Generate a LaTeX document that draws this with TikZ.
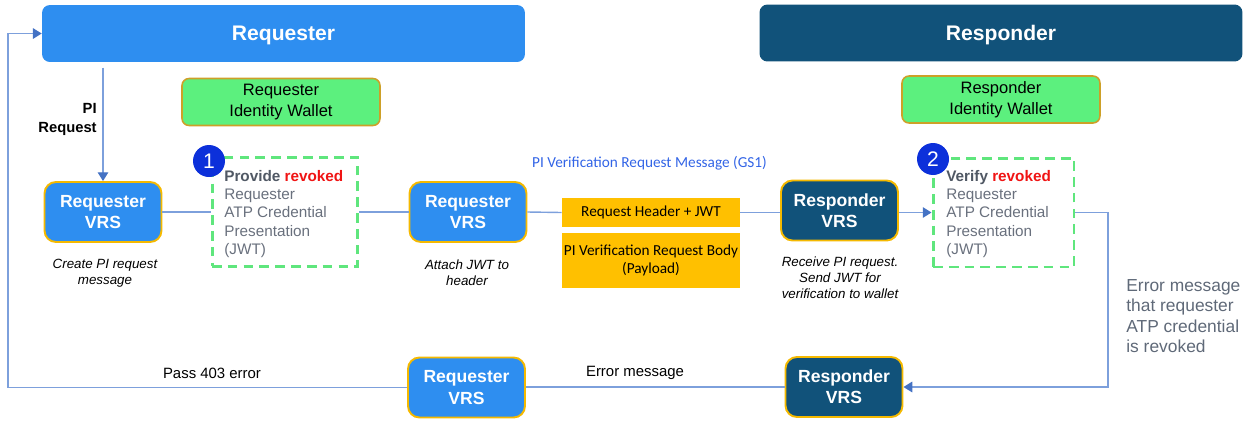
\documentclass[tikz,border=0pt]{standalone}
\usepackage{fontspec}
\setmainfont{Liberation Sans}
\newfontfamily\calibfont{Carlito}
\usetikzlibrary{arrows.meta}
\definecolor{reqblue}{RGB}{46,142,240}
\definecolor{resblue}{RGB}{17,82,122}
\definecolor{gold}{RGB}{245,185,0}
\definecolor{walletgreen}{RGB}{92,240,126}
\definecolor{walletedge}{RGB}{205,160,40}
\definecolor{dashgreen}{RGB}{95,230,125}
\definecolor{msgyellow}{RGB}{255,192,0}
\definecolor{linkblue}{RGB}{125,160,220}
\definecolor{tipblue}{RGB}{68,114,196}
\definecolor{badgeblue}{RGB}{12,48,218}
\definecolor{notegray}{RGB}{95,105,120}
\definecolor{textgray}{RGB}{105,112,125}
\definecolor{darkgray}{RGB}{80,88,100}
\definecolor{revred}{RGB}{240,20,20}
\definecolor{msgblue}{RGB}{50,100,230}
\begin{document}
\begin{tikzpicture}[x=0.02cm,y=-0.02cm,
  header/.style={rounded corners=4.5pt, minimum width=9.66cm, minimum height=1.14cm,
    text depth=0pt, text=white, font=\bfseries\fontsize{12}{14}\selectfont},
  wallet/.style={draw=walletedge, line width=0.9pt, fill=walletgreen, rounded corners=4pt,
    minimum width=3.96cm, minimum height=0.94cm, align=center, inner sep=1pt,
    font=\fontsize{9.4}{12}\selectfont},
  vrs/.style={draw=gold, line width=1.1pt, rounded corners=6.5pt, minimum width=2.34cm,
    minimum height=1.2cm, align=center, text=white, inner sep=1pt,
    font=\bfseries\fontsize{10}{12}\selectfont},
  reqvrs/.style={vrs, fill=reqblue},
  resvrs/.style={vrs, fill=resblue},
  cred/.style={draw=dashgreen, line width=1.7pt, dash pattern=on 5.5pt off 3.5pt,
    minimum height=2.18cm},
  badge/.style={circle, fill=badgeblue, minimum size=0.64cm, inner sep=0pt, text=white,
    font=\fontsize{12}{12}\selectfont},
  credtext/.style={anchor=north west, align=left, inner sep=0pt, text=textgray,
    font=\fontsize{8.7}{10.4}\selectfont},
  msgpart/.style={fill=msgyellow, minimum width=3.56cm, align=center, inner sep=1pt,
    font=\calibfont\fontsize{8.7}{10}\selectfont},
  caption/.style={anchor=north, align=center, inner sep=0pt,
    font=\itshape\fontsize{7.6}{9.1}\selectfont},
  link/.style={draw=linkblue, line width=0.8pt},
  arrow/.style={link, -{Triangle[length=5pt, width=6pt, color=tipblue]}},
  flowlabel/.style={inner sep=0pt, font=\fontsize{8.5}{10}\selectfont},
]
\useasboundingbox (0,0) rectangle (1250,420);

% swimlane headers
\node[header, fill=reqblue] (reqhdr) at (283.5,33.5) {Requester};
\node[header, fill=resblue] (reshdr) at (1001,33) {Responder};

% identity wallets
\node[wallet] (reqwallet) at (281,102) {Requester\\Identity Wallet};
\node[wallet] (reswallet) at (1001,99.5) {Responder\\Identity Wallet};

% verifiable request services
\node[reqvrs] (vrsA) at (103,212) {Requester\\VRS};
\node[reqvrs] (vrsB) at (468,212) {Requester\\VRS};
\node[resvrs] (vrsC) at (839.5,210.5) {Responder\\VRS};
\node[resvrs] (vrsD) at (844,387) {Responder\\VRS};
\node[reqvrs] (vrsE) at (466.5,387.5) {Requester\\VRS};

% credential presentation steps
\node[cred, minimum width=2.92cm] (credA) at (285,212) {};
\node[cred, minimum width=2.82cm] (credB) at (1003.5,212.5) {};
\node[credtext] (credAtext) at (224,170)
  {{\bfseries\color{darkgray}Provide} {\bfseries\color{revred}revoked}\\Requester\\ATP Credential\\Presentation\\(JWT)};
\node[credtext] (credBtext) at (946,170)
  {{\bfseries\color{darkgray}Verify} {\bfseries\color{revred}revoked}\\Requester\\ATP Credential\\Presentation\\(JWT)};
\node[badge] (badgeA) at (209,161) {1};
\node[badge] (badgeB) at (933,159) {2};

% request message parts
\node[msgpart, minimum height=0.58cm] (msghead) at (651,212.5) {Request Header + JWT};
\node[msgpart, minimum height=1.1cm] (msgbody) at (651,260.5) {PI Verification Request Body\\(Payload)};
\node[inner sep=0pt, text=msgblue, font=\calibfont\fontsize{8.7}{10}\selectfont] (msglabel)
  at (649.5,163) {PI Verification Request Message (GS1)};

% step captions
\node[caption] (capA) at (105,259) {Create PI request\\message};
\node[caption] (capB) at (467,259) {Attach JWT to\\header};
\node[caption] (capC) at (840,256) {Receive PI request.\\Send JWT for\\verification to wallet};
\node[anchor=north east, align=right, inner sep=0pt, font=\bfseries\fontsize{8.4}{10.8}\selectfont]
  (pireq) at (97,103) {PI\\Request};
\node[anchor=north west, align=left, inner sep=0pt, text=notegray, font=\fontsize{9.9}{11.7}\selectfont]
  (errnote) at (1126,279) {Error message\\that requester\\ATP credential\\is revoked};
\node[flowlabel] (passlbl) at (212,373) {Pass 403 error};
\node[flowlabel] (errlbl) at (635,373) {Error message};

% loop turning points
\coordinate (loopR) at (1108,0);
\coordinate (loopL) at (8,0);

% request flow
\draw[arrow, shorten <=3pt] (vrsA |- reqhdr.south) -- (vrsA.north);
\draw[link] (vrsA.east) -- (credA.west);
\draw[link] (credA.east) -- (vrsB.west);
\draw[link] (vrsB.east) -- (msghead.west);
\draw[link] (msghead.east) -- (msghead.east -| vrsC.west);
\draw[arrow] (vrsC.east |- credB.west) -- (credB.west);

% error flow back
\draw[arrow] (credB.east) -- (credB.east -| loopR) |- (vrsD.east);
\draw[link] (vrsD.west) -- (vrsD.west -| vrsE.east);
\draw[arrow] (vrsE.west) -- (vrsE.west -| loopL) |- (reqhdr.west);
\end{tikzpicture}
\end{document}
